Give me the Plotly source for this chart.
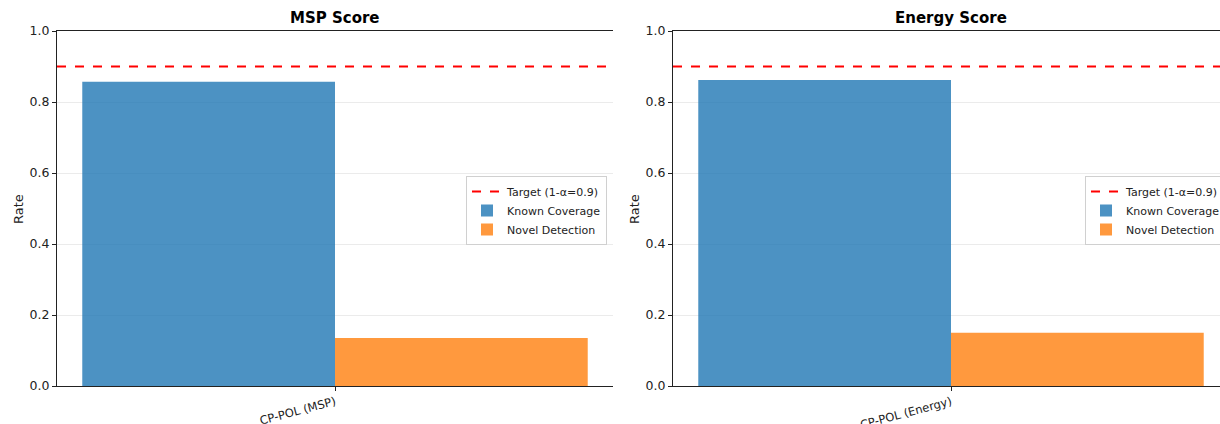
import plotly.graph_objects as go

titles = ["MSP Score", "Energy Score"]
categories = ["CP-POL (MSP)", "CP-POL (Energy)"]
known_coverage = [0.857, 0.862]
novel_detection = [0.135, 0.150]
target = 0.9
y_ticks = [0.0, 0.2, 0.4, 0.6, 0.8, 1.0]
target_name = "Target (1-α=0.9)"
known_name = "Known Coverage"
novel_name = "Novel Detection"

BLUE = "rgba(31,119,180,0.8)"
ORANGE = "rgba(255,127,14,0.8)"
W = 0.35
FONT = "DejaVu Sans"

fig = go.Figure()

x_domains = [[57/1220, 613/1220], [673/1220, 1.0]]
x_ranges = [[-1.1*W, 1.1*W], [-1.1*W, -1.1*W + 2.2*W*547/556]]
y_domain = [(424-386)/424, (424-31)/424]
legend_x = [607/1220, 1226/1220]
title_x = [335/1220, 951/1220]

for i in range(2):
    xa = "x" if i == 0 else "x2"
    ya = "y" if i == 0 else "y2"
    lg = "legend" if i == 0 else "legend2"
    fig.add_trace(go.Scatter(x=[x_ranges[0][0], x_ranges[0][1]], y=[target, target],
                             mode="lines", line=dict(color="red", width=2, dash="dash"),
                             name=target_name, xaxis=xa, yaxis=ya, legend=lg))
    fig.add_trace(go.Bar(x=[0], y=[known_coverage[i]], width=W, offset=-W,
                         marker=dict(color=BLUE, line=dict(width=0)),
                         name=known_name, xaxis=xa, yaxis=ya, legend=lg))
    fig.add_trace(go.Bar(x=[0], y=[novel_detection[i]], width=W, offset=0,
                         marker=dict(color=ORANGE, line=dict(width=0)),
                         name=novel_name, xaxis=xa, yaxis=ya, legend=lg))

axis_common = dict(showline=True, linecolor="#222", linewidth=1, ticks="outside",
                   ticklen=4, tickcolor="#222", tickfont=dict(family=FONT, size=12.5, color="#222"))

layout = dict(
    width=1220, height=424,
    margin=dict(l=0, r=0, t=0, b=0, autoexpand=False),
    paper_bgcolor="white", plot_bgcolor="white",
    barmode="overlay",
    font=dict(family=FONT, color="#222"),
)
for i in range(2):
    sx = "" if i == 0 else "2"
    layout["xaxis" + sx] = dict(axis_common, domain=x_domains[i], range=x_ranges[i],
                                anchor="y" + sx, mirror=True, tickmode="array",
                                tickvals=[0], ticktext=[categories[i]], tickangle=-15,
                                showgrid=False, zeroline=False,
                                tickfont=dict(family=FONT, size=11.5, color="#222"))
    layout["yaxis" + sx] = dict(axis_common, domain=y_domain, range=[0, 1.0],
                                anchor="x" + sx, mirror=False, tickmode="array",
                                tickvals=y_ticks, ticktext=[f"{v:.1f}" for v in y_ticks],
                                showgrid=True, gridcolor="#ebebeb", gridwidth=1, zeroline=False)
    layout["legend" + ("" if i == 0 else "2")] = dict(
        x=legend_x[i], xanchor="right", y=(424-176)/424, yanchor="top",
        bgcolor="white", bordercolor="#d0d0d0", borderwidth=1,
        font=dict(family=FONT, size=11, color="#222"),
        itemwidth=30, tracegroupgap=0)

fig.update_layout(**layout)

annotations = []
for i in range(2):
    annotations.append(dict(text="<b>" + titles[i] + "</b>", x=title_x[i], y=1 - 18/424,
                            xref="paper", yref="paper", showarrow=False,
                            font=dict(family=FONT, size=15, color="black"),
                            xanchor="center", yanchor="middle"))
    annotations.append(dict(text="Rate", x=[18/1220, 634/1220][i], y=(424-209)/424,
                            xref="paper", yref="paper", showarrow=False, textangle=-90,
                            font=dict(family=FONT, size=13, color="#222"),
                            xanchor="center", yanchor="middle"))
fig.update_layout(annotations=annotations)

fig.write_html("out.html", config={"displayModeBar": False},
               post_script="document.body.style.margin='0';document.body.style.overflow='hidden';")
